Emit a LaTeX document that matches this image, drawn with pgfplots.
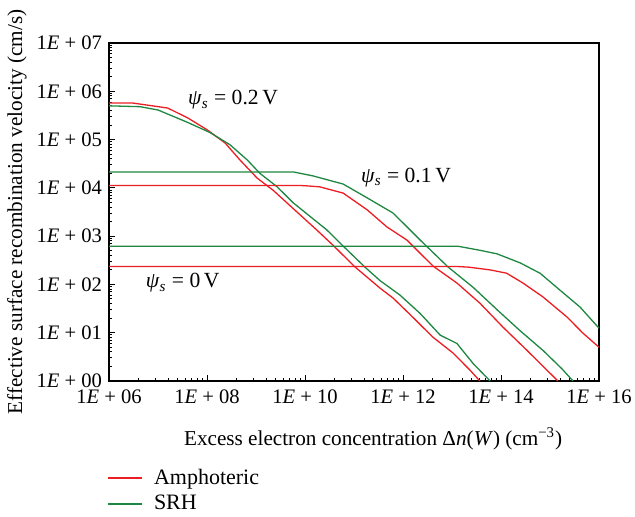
\documentclass[border=0pt]{standalone}
\usepackage{fontspec}
\setmainfont{Liberation Serif}
\usepackage{pgfplots}
\pgfplotsset{compat=1.18}
\definecolor{amphRed}{RGB}{235,30,35}
\definecolor{srhGreen}{RGB}{30,135,65}

\begin{document}
\begin{tikzpicture}
  \useasboundingbox (-54.5pt,-67.5pt) rectangle (263pt,190.5pt);
  \begin{axis}[
      xmode=log, ymode=log,
      scale only axis,
      width=245pt, height=169pt,
      xmin=1e6, xmax=1e16,
      ymin=1, ymax=1e7,
      axis line style={line width=0.8pt},
      tick align=inside,
      xtick pos=left, ytick pos=left,
      major tick length=3pt, minor tick length=1.5pt,
      every tick/.style={black, line width=0.5pt},
      xtick={1e6,1e8,1e10,1e12,1e14,1e16},
      xticklabels={{1\textit{E} + 06},{1\textit{E} + 08},{1\textit{E} + 10},{1\textit{E} + 12},{1\textit{E} + 14},{1\textit{E} + 16}},
      minor xtick={4e6,9e6,1.6e7,2.5e7,3.6e7,4.9e7,6.4e7,8.1e7,
                   4e8,9e8,1.6e9,2.5e9,3.6e9,4.9e9,6.4e9,8.1e9,
                   4e10,9e10,1.6e11,2.5e11,3.6e11,4.9e11,6.4e11,8.1e11,
                   4e12,9e12,1.6e13,2.5e13,3.6e13,4.9e13,6.4e13,8.1e13,
                   4e14,9e14,1.6e15,2.5e15,3.6e15,4.9e15,6.4e15,8.1e15},
      ytick={1,1e1,1e2,1e3,1e4,1e5,1e6,1e7},
      yticklabels={{1\textit{E} + 00},{1\textit{E} + 01},{1\textit{E} + 02},{1\textit{E} + 03},{1\textit{E} + 04},{1\textit{E} + 05},{1\textit{E} + 06},{1\textit{E} + 07}},
      minor ytick={2,3,4,5,6,7,8,9,
                   2e1,3e1,4e1,5e1,6e1,7e1,8e1,9e1,
                   2e2,3e2,4e2,5e2,6e2,7e2,8e2,9e2,
                   2e3,3e3,4e3,5e3,6e3,7e3,8e3,9e3,
                   2e4,3e4,4e4,5e4,6e4,7e4,8e4,9e4,
                   2e5,3e5,4e5,5e5,6e5,7e5,8e5,9e5,
                   2e6,3e6,4e6,5e6,6e6,7e6,8e6,9e6},
      tick label style={font=\fontsize{10.3}{12}\selectfont},
      xticklabel style={yshift=-1pt},
      xlabel={Excess electron concentration Δ\textit{n}(\textit{W}) (cm\textsuperscript{−3})},
      xlabel style={at={(axis description cs:0.539,-0.192)}, anchor=base, font=\fontsize{10.6}{12}\selectfont},
      ylabel={Effective surface recombination velocity (cm/s)},
      ylabel style={at={(axis description cs:-0.188,0.5)}, anchor=center, font=\fontsize{10.6}{12}\selectfont},
      legend style={at={(axis description cs:-0.016,-0.235)}, anchor=north west,
                    draw=none, fill=none, font=\fontsize{11}{13}\selectfont,
                    /tikz/every odd column/.append style={column sep=3.5pt}},
      legend cell align=left,
      every axis plot/.append style={line width=0.65pt}
    ]
    % psi_s = 0.2 V
    \addplot[amphRed] coordinates {
      (1e6,5.7e5) (3.1e6,5.7e5) (1.58e7,4.5e5) (4.07e7,2.8e5) (1e8,1.6e5)
      (2.34e8,8.5e4) (4.68e8,3.8e4) (1.05e9,1.6e4) (2.24e9,8.9e3) (4.27e9,4.9e3)
      (1.74e10,1.34e3) (3.72e10,650) (1.05e11,230) (3.39e11,84) (6.3e11,52)
      (1.58e12,21) (4.07e12,8.1) (1.05e13,3.8) (2.34e13,1.67) (3.7e13,1.0)
    };
    \addlegendentry{Amphoteric}
    \addplot[srhGreen] coordinates {
      (1e6,5.0e5) (4.3e6,4.8e5) (1e7,4.1e5) (3.9e7,2.3e5) (1.15e8,1.4e5)
      (2.95e8,7.8e4) (6.6e8,3.8e4) (1.2e9,2.0e4) (2.7e9,1.05e4) (5.75e9,4.9e3)
      (2.8e10,1.34e3) (5.75e10,650) (1.66e11,230) (3.4e11,120) (8.7e11,60)
      (2.24e12,25) (5.75e12,8.9) (1.26e13,6.0) (2.7e13,2.3) (6.0e13,1.0)
    };
    \addlegendentry{SRH}
    % psi_s = 0.1 V
    \addplot[amphRed, forget plot] coordinates {
      (1e6,1.12e4) (8e9,1.12e4) (1.1e10,1.1e4) (2.0e10,1.05e4) (6.0e10,7.8e3)
      (1.86e11,3.5e3) (4.7e11,1.55e3) (1.2e12,830) (4.1e12,240) (1.26e13,107)
      (3.7e13,41) (1.1e14,13) (3.4e14,4.3) (8.7e14,1.67) (1.45e15,1.0)
    };
    \addplot[srhGreen, forget plot] coordinates {
      (1e6,2.14e4) (5.75e9,2.14e4) (1.45e10,1.77e4) (6.0e10,1.2e4) (1.86e11,6.2e3)
      (6.3e11,3.0e3) (2.24e12,830) (8.3e12,230) (2.7e13,87) (8.3e13,30)
      (2.45e14,11) (7.2e14,4.3) (1.74e15,1.8) (2.95e15,1.0)
    };
    % psi_s = 0 V
    \addplot[amphRed, forget plot] coordinates {
      (1e6,235) (1.3e13,235) (2.2e13,228) (6.0e13,200) (1.3e14,171)
      (2.8e14,107) (7.2e14,55) (2.24e15,21) (4.7e15,9.8) (1e16,5.0)
    };
    \addplot[srhGreen, forget plot] coordinates {
      (1e6,620) (1.3e13,620) (3.7e13,510) (8.3e13,430) (2.45e14,280)
      (6.3e14,170) (1.6e15,76) (4.1e15,34) (1e16,12.4)
    };
    \node[font=\fontsize{10.8}{12}\selectfont] at (axis cs:3.4e8,6.6e5) {\textit{ψ}\textsubscript{\textit{s}} = 0.2\,V};
    \node[font=\fontsize{10.8}{12}\selectfont] at (axis cs:1.15e12,1.66e4) {\textit{ψ}\textsubscript{\textit{s}} = 0.1\,V};
    \node[font=\fontsize{10.8}{12}\selectfont] at (axis cs:3.2e7,107) {\textit{ψ}\textsubscript{\textit{s}} = 0\,V};
  \end{axis}
\end{tikzpicture}
\end{document}
